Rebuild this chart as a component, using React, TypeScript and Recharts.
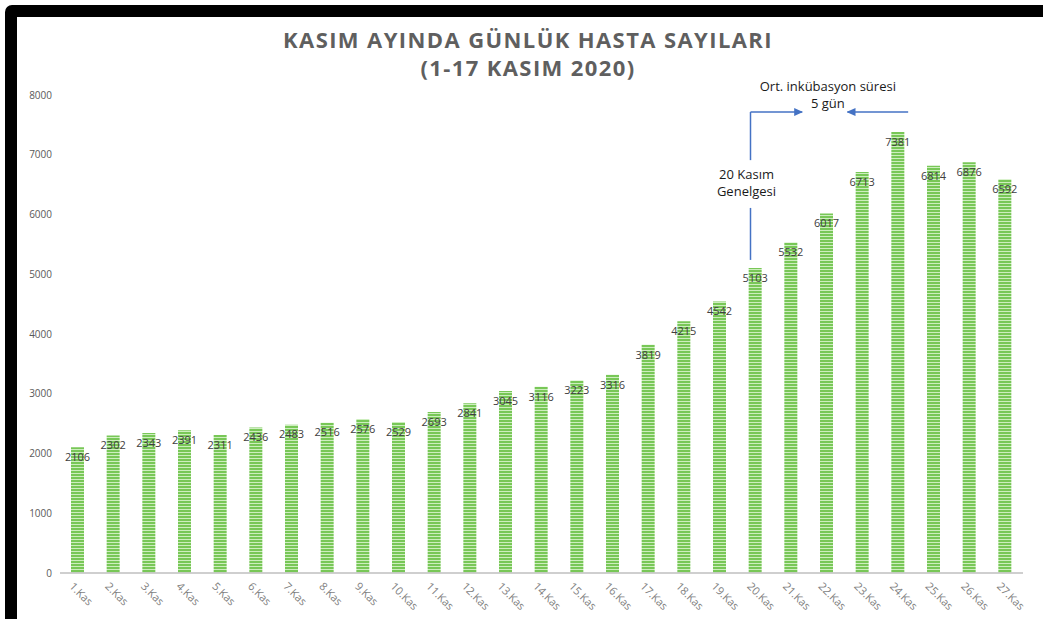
import React from "react";
import {
  BarChart,
  Bar,
  XAxis,
  YAxis,
  LabelList,
  ReferenceLine,
  ReferenceDot,
} from "recharts";

const days = [
  "1.Kas", "2.Kas", "3.Kas", "4.Kas", "5.Kas", "6.Kas", "7.Kas", "8.Kas", "9.Kas",
  "10.Kas", "11.Kas", "12.Kas", "13.Kas", "14.Kas", "15.Kas", "16.Kas", "17.Kas",
  "18.Kas", "19.Kas", "20.Kas", "21.Kas", "22.Kas", "23.Kas", "24.Kas", "25.Kas",
  "26.Kas", "27.Kas",
];
const patients = [
  2106, 2302, 2343, 2391, 2311, 2436, 2483, 2516, 2576, 2529, 2693, 2841, 3045,
  3116, 3223, 3316, 3819, 4215, 4542, 5103, 5532, 6017, 6713, 7381, 6814, 6876,
  6592,
];
const yTicks = [0, 1000, 2000, 3000, 4000, 5000, 6000, 7000, 8000];

const data = days.map((d, i) => ({ day: d, value: patients[i] }));

const FONT = "'Open Sans', 'Noto Sans', sans-serif";
const ARROW = "#4472c4";

function XTick({ x, y, payload }: { x?: number; y?: number; payload?: { value: string } }) {
  return (
    <g transform={`translate(${(x ?? 0) - 9},${(y ?? 0) + 6}) rotate(45)`}>
      <text
        x={0}
        y={0}
        textAnchor="start"
        fontSize={11}
        fontFamily={FONT}
        fill="#7f7f7f"
      >
        {payload?.value}
      </text>
    </g>
  );
}

// vertical line piece, nudged a few px left of the bar centre like the original
function VLine(props: { x1?: number; y1?: number; x2?: number; y2?: number }) {
  const { x1 = 0, y1 = 0, x2 = 0, y2 = 0 } = props;
  return <line x1={x1 - 5} y1={y1} x2={x2 - 5} y2={y2} stroke={ARROW} strokeWidth={1.5} />;
}

function ArrowRight(props: { x1?: number; y1?: number; x2?: number; y2?: number }) {
  const { x1 = 0, y1 = 0, x2 = 0, y2 = 0 } = props;
  return (
    <line
      x1={x1 - 5}
      y1={y1}
      x2={x2 + 11}
      y2={y2}
      stroke={ARROW}
      strokeWidth={1.5}
      markerEnd="url(#arrowHead)"
    />
  );
}

function ArrowLeft(props: { x1?: number; y1?: number; x2?: number; y2?: number }) {
  const { x1 = 0, y1 = 0, x2 = 0, y2 = 0 } = props;
  return (
    <line
      x1={x1 + 10}
      y1={y1}
      x2={x2 - 15}
      y2={y2}
      stroke={ARROW}
      strokeWidth={1.5}
      markerEnd="url(#arrowHead)"
    />
  );
}

function TwoLines(lines: string[], dx: number) {
  return (props: { viewBox?: { cx?: number; cy?: number; x?: number; y?: number } }) => {
    const vb = props.viewBox ?? {};
    const cx = (vb.cx ?? vb.x ?? 0) + dx;
    const cy = vb.cy ?? vb.y ?? 0;
    return (
      <text textAnchor="middle" fontSize={13} fontFamily={FONT} fill="#1a1a1a">
        {lines.map((l, i) => (
          <tspan key={l} x={cx} y={cy + (i - 0.5) * 17 + 4.5}>
            {l}
          </tspan>
        ))}
      </text>
    );
  };
}

export default function App() {
  return (
    <div style={{ position: "absolute", left: 0, top: 0, width: 1043, height: 624, background: "#fff", overflow: "hidden" }}>
      <svg width={0} height={0} style={{ position: "absolute" }}>
        <defs>
          <pattern id="stripes" patternUnits="userSpaceOnUse" width={20} height={3}>
            <rect x={0} y={0} width={20} height={3} fill="#78c757" />
            <rect x={0} y={2} width={20} height={1} fill="#cdeebe" />
          </pattern>
          <marker
            id="arrowHead"
            markerUnits="userSpaceOnUse"
            markerWidth={9}
            markerHeight={8}
            refX={8}
            refY={4}
            orient="auto"
          >
            <path d="M0,0 L9,4 L0,8 z" fill={ARROW} />
          </marker>
        </defs>
      </svg>
      <div style={{ position: "absolute", left: 5, top: 5, width: 1038, height: 614, background: "#000", borderTopLeftRadius: 7 }} />
      <div style={{ position: "absolute", left: 17, top: 17, width: 1026, height: 602, background: "#fff" }} />
      <div
        style={{
          position: "absolute",
          left: 17,
          top: 25,
          width: 1022,
          textAlign: "center",
          fontFamily: FONT,
          fontWeight: 700,
          fontSize: 22,
          letterSpacing: 1.4,
          lineHeight: "28px",
          color: "#5f5f5f",
        }}
      >
        KASIM AYINDA GÜNLÜK HASTA SAYILARI
        <br />
        (1-17 KASIM 2020)
      </div>
      <div style={{ position: "absolute", left: 0, top: 0 }}>
        <BarChart
          width={1043}
          height={624}
          data={data}
          margin={{ top: 95, right: 20, bottom: 0, left: 0 }}
          barSize={13}
        >
          <XAxis
            dataKey="day"
            interval={0}
            height={51}
            tickLine={false}
            axisLine={{ stroke: "#bfbfbf", strokeWidth: 1.5 }}
            tick={<XTick />}
          />
          <YAxis
            width={60}
            domain={[0, 8000]}
            ticks={yTicks}
            axisLine={false}
            tickLine={false}
            tick={{ fontSize: 10, fill: "#595959", fontFamily: FONT }}
          />
          <Bar dataKey="value" fill="url(#stripes)" isAnimationActive={false}>
            <LabelList
              dataKey="value"
              position="insideTop"
              offset={6}
              fontSize={11}
              fontFamily={FONT}
              fill="#404040"
            />
          </Bar>
          <ReferenceLine segment={[{ x: "20.Kas", y: 5240 }, { x: "20.Kas", y: 6110 }]} shape={<VLine />} ifOverflow="visible" />
          <ReferenceLine segment={[{ x: "20.Kas", y: 6910 }, { x: "20.Kas", y: 7715 }]} shape={<VLine />} ifOverflow="visible" />
          <ReferenceLine segment={[{ x: "20.Kas", y: 7715 }, { x: "21.Kas", y: 7715 }]} shape={<ArrowRight />} ifOverflow="visible" />
          <ReferenceLine segment={[{ x: "24.Kas", y: 7715 }, { x: "23.Kas", y: 7715 }]} shape={<ArrowLeft />} ifOverflow="visible" />
          <ReferenceDot
            x="20.Kas"
            y={6520}
            r={0}
            fill="none"
            stroke="none"
            ifOverflow="visible"
            label={{ content: TwoLines(["20 Kasım", "Genelgesi"], -9) }}
          />
          <ReferenceDot
            x="22.Kas"
            y={8000}
            r={0}
            fill="none"
            stroke="none"
            ifOverflow="visible"
            label={{ content: TwoLines(["Ort. inkübasyon süresi", "5 gün"], 1) }}
          />
        </BarChart>
      </div>
    </div>
  );
}
